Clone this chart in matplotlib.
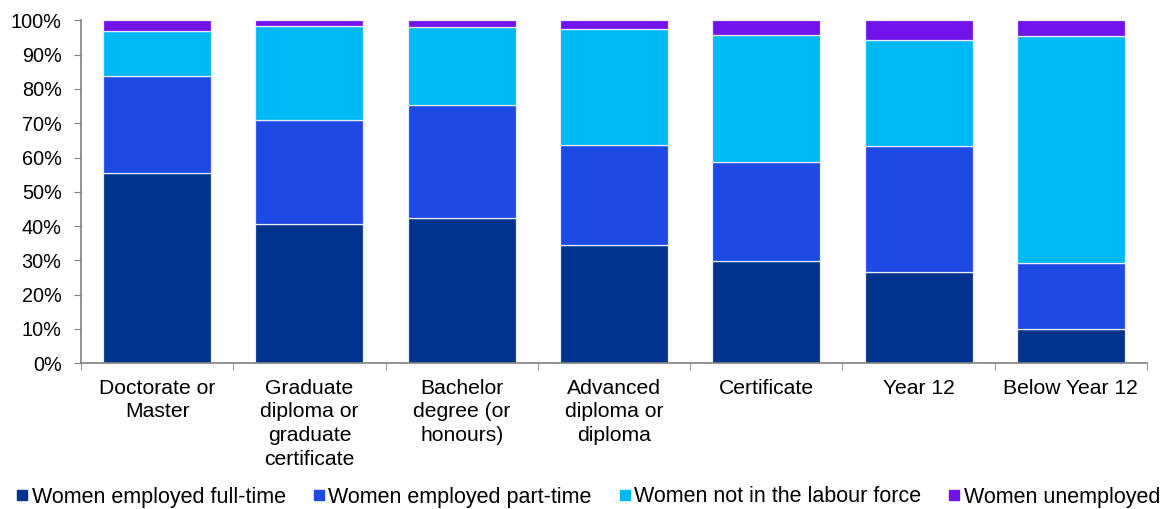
import matplotlib
matplotlib.use("Agg")
import matplotlib.pyplot as plt
import numpy as np
from matplotlib.lines import Line2D

plt.rcParams['font.family'] = ['Liberation Sans', 'DejaVu Sans']

categories = ["Doctorate or\nMaster", "Graduate\ndiploma or\ngraduate\ncertificate",
              "Bachelor\ndegree (or\nhonours)", "Advanced\ndiploma or\ndiploma",
              "Certificate", "Year 12", "Below Year 12"]
full_time = [55.4, 40.6, 42.3, 34.5, 29.9, 26.5, 10.0]
part_time = [28.4, 30.3, 33.1, 29.1, 28.9, 36.9, 19.2]
not_in_lf = [13.2, 27.3, 22.6, 34.0, 36.9, 30.9, 66.2]
unemployed = [3.0, 1.8, 2.0, 2.4, 4.3, 5.7, 4.6]

series_names = ["Women employed full-time", "Women employed part-time",
                "Women not in the labour force", "Women unemployed"]
colors = ["#00338D", "#1E49E2", "#00B8F5", "#7213EA"]

fig = plt.figure(figsize=(11.7, 5.09), dpi=100)
ax = fig.add_axes([81/1170, 1 - 363.3/509, (1147-81)/1170, (363.3-20.3)/509])

x = np.arange(len(categories))
bottom = np.zeros(len(categories))
for vals, col in zip([full_time, part_time, not_in_lf, unemployed], colors):
    ax.bar(x, vals, width=0.71, bottom=bottom, color=col, edgecolor="#E8ECF8", linewidth=0.9)
    bottom += np.array(vals)

ax.set_xlim(-0.5, len(categories) - 0.5)
ax.set_ylim(0, 100)
ax.set_yticks(np.arange(0, 101, 10))
ax.set_yticklabels([f"{v}%" for v in range(0, 101, 10)], fontsize=14.3)
ax.set_xticks(x)
ax.set_xticklabels(categories, fontsize=15.2, linespacing=1.32, va="top")
ax.set_xticks(np.arange(-0.5, len(categories), 1), minor=True)
ax.tick_params(axis="x", which="major", length=0, pad=11)
ax.tick_params(axis="x", which="minor", length=5, color="#808080", direction="out")
ax.tick_params(axis="y", length=5, color="#808080", pad=9)

for s in ["top", "right"]:
    ax.spines[s].set_visible(False)
for s in ["left", "bottom"]:
    ax.spines[s].set_color("#808080")
    ax.spines[s].set_linewidth(1.2)

handles = [Line2D([0], [0], marker="s", linestyle="none", markersize=7.3,
                  markerfacecolor=c, markeredgecolor=c) for c in colors]
fig.legend(handles, series_names, loc="center", bbox_to_anchor=(0.503, 1 - 497/509),
           ncol=4, frameon=False, fontsize=15.5, handletextpad=0.2,
           columnspacing=1.28, handlelength=0.5)

fig.savefig("out.png", dpi=100)
